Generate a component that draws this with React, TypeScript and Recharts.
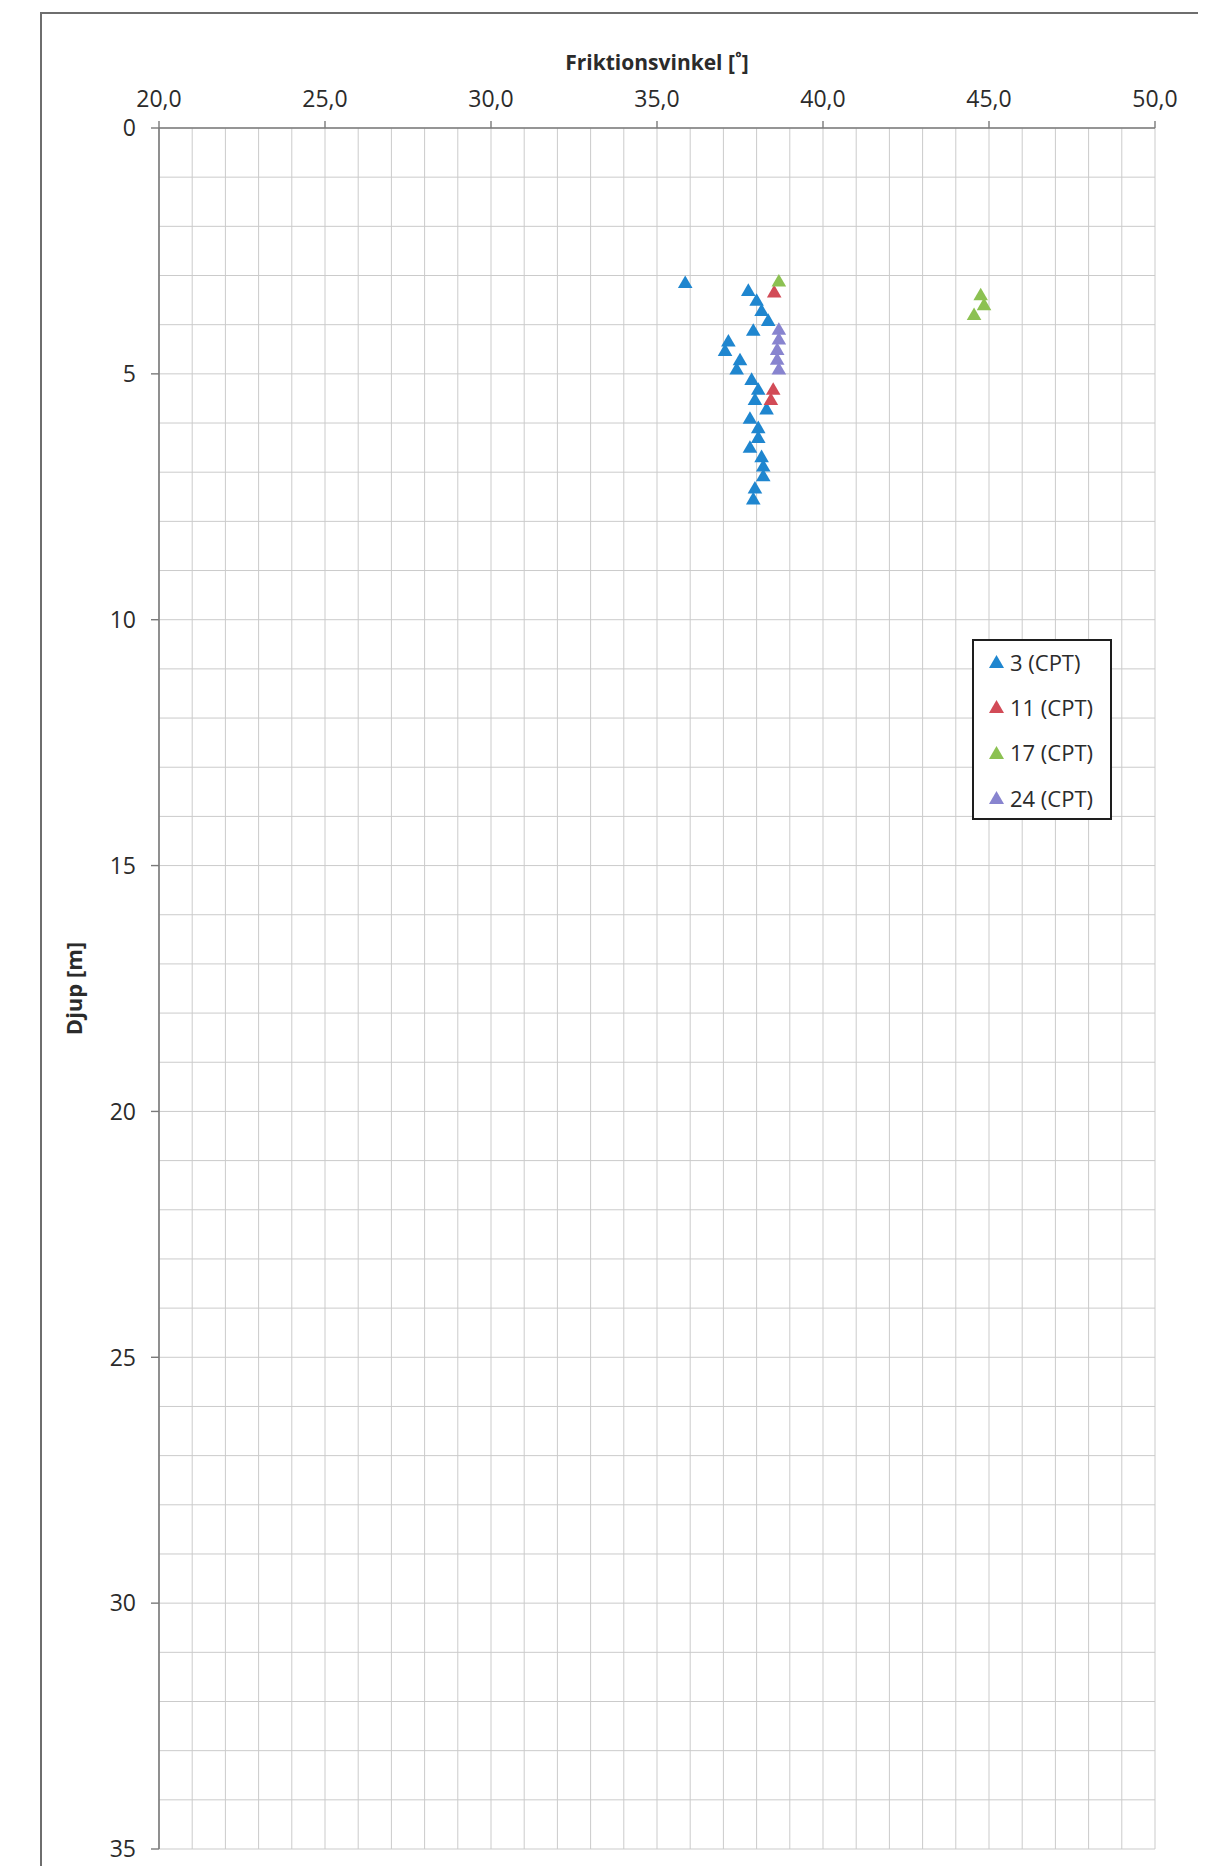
import React from 'react';
import { ScatterChart, Scatter, XAxis, YAxis, CartesianGrid, Legend } from 'recharts';

// ---- tick values ----
const xTicks = [20, 21, 22, 23, 24, 25, 26, 27, 28, 29, 30, 31, 32, 33, 34, 35, 36, 37, 38, 39, 40, 41, 42, 43, 44, 45, 46, 47, 48, 49, 50];
const yTicks = [0, 1, 2, 3, 4, 5, 6, 7, 8, 9, 10, 11, 12, 13, 14, 15, 16, 17, 18, 19, 20, 21, 22, 23, 24, 25, 26, 27, 28, 29, 30, 31, 32, 33, 34, 35];
const xLabelTicks = [20, 25, 30, 35, 40, 45, 50];
const yLabelTicks = [0, 5, 10, 15, 20, 25, 30, 35];

// ---- series: friction angle [deg] and depth [m] ----
const seriesNames = ['3 (CPT)', '11 (CPT)', '17 (CPT)', '24 (CPT)'];
const seriesColors = ['#1f86cf', '#d24b57', '#8cc152', '#8884cf'];

const s3Angle = [35.85, 37.75, 38.0, 38.15, 38.35, 37.9, 37.15, 37.05, 37.5, 37.4, 37.85, 38.05, 37.95, 38.3, 37.8, 38.05, 38.05, 37.8, 38.15, 38.2, 38.2, 37.95, 37.9];
const s3Depth = [3.17, 3.33, 3.53, 3.74, 3.94, 4.14, 4.36, 4.55, 4.74, 4.93, 5.14, 5.34, 5.55, 5.74, 5.93, 6.12, 6.32, 6.52, 6.71, 6.9, 7.1, 7.35, 7.57];

const s11Angle = [38.53, 38.5, 38.43];
const s11Depth = [3.36, 5.34, 5.55];

const s17Angle = [38.67, 44.75, 44.85, 44.55];
const s17Depth = [3.14, 3.42, 3.62, 3.82];

const s24Angle = [38.67, 38.67, 38.62, 38.62, 38.67];
const s24Depth = [4.12, 4.32, 4.53, 4.73, 4.93];

const toPoints = (xs: number[], ys: number[]) => xs.map((x, i) => ({ x, y: ys[i] }));
const seriesData = [
  toPoints(s3Angle, s3Depth),
  toPoints(s11Angle, s11Depth),
  toPoints(s17Angle, s17Depth),
  toPoints(s24Angle, s24Depth),
];

const FONT = "'Open Sans', 'Liberation Sans', sans-serif";
const X_TICK_SIZE = 7;
const X_TICK_MARGIN = 14;
const Y_TICK_SIZE = 8;
const Y_TICK_MARGIN = 15;
const AXIS_COLOR = '#7a7a7a';
const TEXT_COLOR = '#2b2b2b';
const TRI_HALF = 7.3;
const TRI_TOP = 8.4;
const TRI_BASE = 4.2;

const fmtX = (v: number) => v.toFixed(1).replace('.', ',');

const XTick = (props: any) => {
  const { x, y, payload } = props;
  const v = payload.value;
  if (!xLabelTicks.includes(v)) return <g />;
  const axisY = y + X_TICK_MARGIN + X_TICK_SIZE;
  return (
    <g>
      <line x1={x} x2={x} y1={axisY} y2={axisY - X_TICK_SIZE} stroke={AXIS_COLOR} strokeWidth={1.4} />
      <text x={x} y={y} textAnchor="middle" fontFamily={FONT} fontSize={23} fill={TEXT_COLOR}>
        {fmtX(v)}
      </text>
    </g>
  );
};

const YTick = (props: any) => {
  const { x, y, payload } = props;
  const v = payload.value;
  if (!yLabelTicks.includes(v)) return <g />;
  const axisX = x + Y_TICK_MARGIN + Y_TICK_SIZE;
  return (
    <g>
      <line x1={axisX} x2={axisX - Y_TICK_SIZE} y1={y} y2={y} stroke={AXIS_COLOR} strokeWidth={1.4} />
      <text x={x} y={y} dy="0.36em" textAnchor="end" fontFamily={FONT} fontSize={23} fill={TEXT_COLOR}>
        {String(v)}
      </text>
    </g>
  );
};

const makeTriangle = (color: string) => (props: any) => {
  const { cx, cy } = props;
  if (cx == null || cy == null) return <g />;
  const pts = `${cx},${cy - TRI_TOP} ${cx + TRI_HALF},${cy + TRI_BASE} ${cx - TRI_HALF},${cy + TRI_BASE}`;
  return <polygon points={pts} fill={color} />;
};

const renderLegend = () => (
  <div
    style={{
      width: 140,
      height: 181,
      boxSizing: 'border-box',
      border: '2px solid #1e1e1e',
      background: '#ffffff',
      fontFamily: FONT,
      fontSize: 22,
      color: TEXT_COLOR,
    }}
  >
    <div style={{ marginTop: -2 }}>
      {seriesNames.map((name, i) => (
        <div key={name} style={{ height: 45.3, display: 'flex', alignItems: 'center', paddingLeft: 15 }}>
          <svg width={15} height={13} style={{ display: 'block' }}>
            <polygon points="7.5,0 15,13 0,13" fill={seriesColors[i]} />
          </svg>
          <span style={{ marginLeft: 6, whiteSpace: 'nowrap', lineHeight: '26px' }}>{name}</span>
        </div>
      ))}
    </div>
  </div>
);

export default function App() {
  return (
    <div style={{ position: 'relative', width: 1190, height: 1858, background: '#ffffff' }}>
      <div
        style={{
          position: 'absolute',
          left: 32,
          top: 4,
          width: 1162,
          height: 1854,
          boxSizing: 'border-box',
          borderTop: '2px solid #6e6e6e',
          borderLeft: '2px solid #6e6e6e',
          borderRight: '2px solid #6e6e6e',
        }}
      />
      <ScatterChart
        width={1190}
        height={1858}
        margin={{ top: 40, right: 43, bottom: 17, left: 20 }}
        style={{ position: 'absolute', left: 0, top: 0 }}
      >
        <CartesianGrid stroke="#cbcbcb" strokeWidth={1} />
        <XAxis
          type="number"
          dataKey="x"
          orientation="top"
          domain={[20, 50]}
          ticks={xTicks}
          interval={0}
          height={80}
          tickSize={X_TICK_SIZE}
          tickMargin={X_TICK_MARGIN}
          tickLine={false}
          tick={<XTick />}
          axisLine={{ stroke: AXIS_COLOR, strokeWidth: 1.6 }}
          allowDataOverflow
          label={{
            value: 'Friktionsvinkel [˚]',
            position: 'insideTop',
            offset: 7,
            style: { fontFamily: FONT, fontSize: 21, fontWeight: 700, fill: TEXT_COLOR },
          }}
        />
        <YAxis
          type="number"
          dataKey="y"
          reversed
          domain={[0, 35]}
          ticks={yTicks}
          interval={0}
          width={131}
          tickSize={Y_TICK_SIZE}
          tickMargin={Y_TICK_MARGIN}
          tickLine={false}
          tick={<YTick />}
          axisLine={{ stroke: AXIS_COLOR, strokeWidth: 1.6 }}
          allowDataOverflow
          label={{
            value: 'Djup [m]',
            angle: -90,
            position: 'insideLeft',
            offset: 46,
            style: { fontFamily: FONT, fontSize: 22, fontWeight: 700, fill: TEXT_COLOR, textAnchor: 'middle' },
          }}
        />
        {seriesData.map((d, i) => (
          <Scatter
            key={seriesNames[i]}
            name={seriesNames[i]}
            data={d}
            fill={seriesColors[i]}
            shape={makeTriangle(seriesColors[i])}
            isAnimationActive={false}
          />
        ))}
        <Legend
          layout="vertical"
          align="center"
          verticalAlign="middle"
          content={renderLegend}
          wrapperStyle={{ left: 964, top: 631, width: 140, height: 181 }}
        />
      </ScatterChart>
    </div>
  );
}
